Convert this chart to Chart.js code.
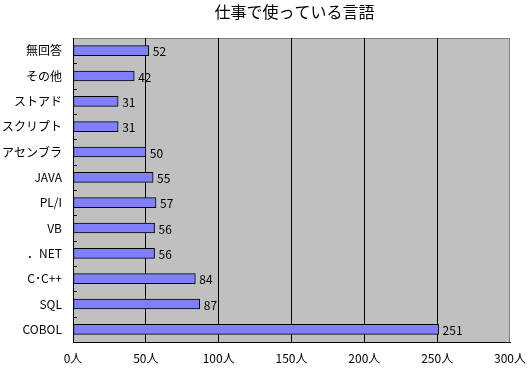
<!DOCTYPE html>
<html>
<head>
<meta charset="utf-8">
<script src="https://cdn.jsdelivr.net/npm/chart.js@4"></script>
<style>
html,body{margin:0;padding:0;background:#fff;}
#wrap{width:531px;height:371px;position:relative;}
</style>
</head>
<body>
<div id="wrap"><canvas id="c" width="531" height="371"></canvas></div>
<script>
const titleText = '仕事で使っている言語';
const categories = ['無回答','その他','ストアド','スクリプト','アセンブラ','JAVA','PL/I','VB','．NET','C･C++','SQL','COBOL'];
const values = [52, 42, 31, 31, 50, 55, 57, 56, 56, 84, 87, 251];
const xTicks = [0, 50, 100, 150, 200, 250, 300];
const unit = '人';

const FONT = '"Noto Sans CJK JP", "DejaVu Sans", sans-serif';

const decor = {
  id: 'decor',
  beforeDraw(chart) {
    const {ctx, chartArea: a} = chart;
    ctx.save();
    ctx.fillStyle = '#C0C0C0';
    ctx.fillRect(a.left, a.top, a.right - a.left, a.bottom - a.top);
    ctx.strokeStyle = '#808080';
    ctx.lineWidth = 1;
    ctx.beginPath();
    ctx.moveTo(a.left, a.top + 0.5);
    ctx.lineTo(a.right - 0.5, a.top + 0.5);
    ctx.lineTo(a.right - 0.5, a.bottom);
    ctx.stroke();
    ctx.restore();
  },
  afterDraw(chart) {
    const {ctx, chartArea: a, scales} = chart;
    const y = scales.y;
    ctx.save();
    ctx.strokeStyle = '#000';
    ctx.lineWidth = 1;
    const n = categories.length;
    const band = (a.bottom - a.top) / n;
    ctx.beginPath();
    for (let i = 1; i < n; i++) {
      const py = Math.round(y.getPixelForValue(i) - band / 2) + 0.5;
      ctx.moveTo(a.left, py);
      ctx.lineTo(a.left + 4, py);
    }
    ctx.stroke();
    ctx.fillStyle = '#000';
    ctx.font = '12px ' + FONT;
    ctx.textBaseline = 'middle';
    ctx.textAlign = 'left';
    const meta = chart.getDatasetMeta(0);
    meta.data.forEach((bar, i) => {
      ctx.fillText(String(values[i]), bar.x + 4, bar.y + 1);
    });
    ctx.font = '16px ' + FONT;
    ctx.textAlign = 'center';
    ctx.textBaseline = 'middle';
    ctx.fillText(titleText, (a.left + a.right) / 2 + 3, 12);
    ctx.restore();
  }
};

new Chart(document.getElementById('c'), {
  type: 'bar',
  data: {
    labels: categories,
    datasets: [{
      data: values,
      backgroundColor: '#8080FF',
      borderColor: '#000000',
      borderWidth: 1,
      borderSkipped: false,
      barThickness: 10
    }]
  },
  options: {
    indexAxis: 'y',
    responsive: false,
    animation: false,
    devicePixelRatio: 1,
    layout: { padding: { top: 38, right: 21, left: 0, bottom: 0 } },
    plugins: {
      legend: { display: false },
      title: { display: false },
      tooltip: { enabled: false }
    },
    scales: {
      x: {
        min: 0, max: 300,
        afterBuildTicks(scale) { scale.ticks = xTicks.map(v => ({value: v})); },
        afterFit(scale) { scale.height = 29; scale.paddingRight = 0; scale.paddingLeft = 0; },
        ticks: {
          color: '#000',
          font: { size: 12, family: FONT },
          padding: 9,
          maxRotation: 0,
          callback: v => v + unit
        },
        grid: {
          color: ctx => (ctx.tick && ctx.tick.value === 300) ? 'rgba(0,0,0,0)' : '#000',
          drawTicks: false,
          lineWidth: 1
        },
        border: { color: '#000', width: 1 }
      },
      y: {
        afterFit(scale) { scale.width = 73; },
        ticks: {
          color: '#000',
          font: { size: 12, family: FONT },
          padding: 11
        },
        grid: { display: false, drawTicks: false },
        border: { color: '#000', width: 1 }
      }
    }
  },
  plugins: [decor]
});
</script>
</body>
</html>
